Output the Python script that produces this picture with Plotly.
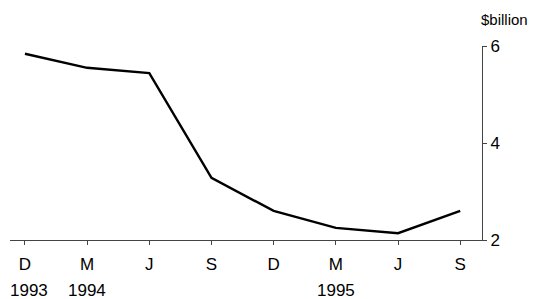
import plotly.graph_objects as go

months = ["D", "M", "J", "S", "D", "M", "J", "S"]
years = ["1993", "1994", "", "", "", "1995", "", ""]
values = [5.84, 5.55, 5.44, 3.28, 2.60, 2.25, 2.14, 2.60]
y_ticks = [2, 4, 6]

x = list(range(len(months)))

fig = go.Figure()
fig.add_trace(go.Scatter(x=x, y=values, mode="lines",
                         line=dict(color="black", width=2.4), hoverinfo="skip"))

font = dict(family="Liberation Sans, Arial, sans-serif", size=17, color="black")

# page body has an 8px default margin; figure is sized to fit the 548x299 window
fig.update_layout(
    width=540, height=291,
    margin=dict(l=2, r=66, t=38, b=59),
    paper_bgcolor="white", plot_bgcolor="white",
    showlegend=False,
    font=font,
    xaxis=dict(range=[-0.24, 7.35], tickvals=x, ticktext=months,
               showgrid=False, zeroline=False, showline=True, linecolor="#444",
               linewidth=1, ticks="outside", ticklen=4, tickcolor="#444",
               ticklabelstandoff=5,
               tickfont=font, fixedrange=True),
    yaxis=dict(range=[2, 6], tickvals=y_ticks, side="right",
               showgrid=False, zeroline=False, showline=True, linecolor="#444",
               linewidth=1, ticks="outside", ticklen=4, tickcolor="#444",
               tickfont=font, fixedrange=True),
)

for i, yr in enumerate(years):
    if yr:
        fig.add_annotation(x=i, y=0, xref="x", yref="paper", text=yr,
                           showarrow=False, yanchor="top", yshift=-39,
                           xshift=4 if i == 0 else 0,
                           font=font)

fig.add_annotation(x=1, y=1, xref="paper", yref="paper", text="$billion",
                   showarrow=False, xanchor="left", yanchor="bottom",
                   xshift=-3, yshift=16, font=dict(family=font["family"], size=15, color="black"))

fig.write_html("out.html")
